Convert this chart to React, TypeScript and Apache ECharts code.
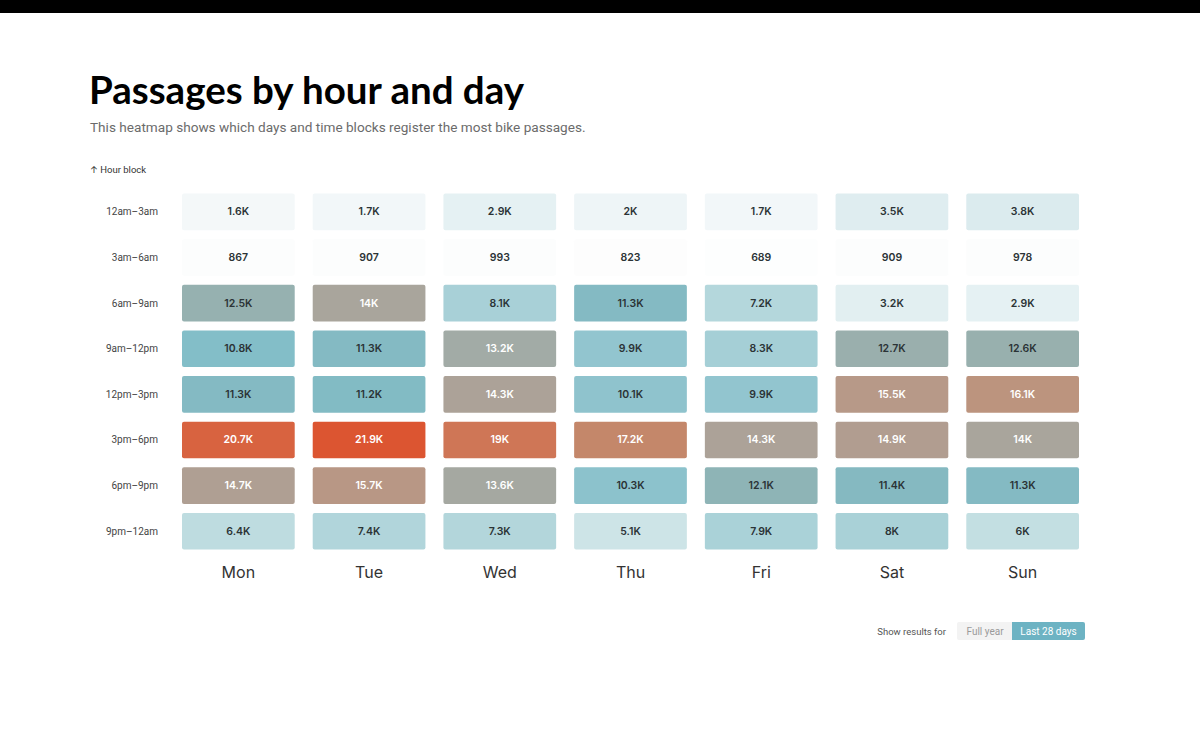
import React, { useEffect, useRef } from "react";
import * as echarts from "echarts";

// Days along the bottom, hour blocks down the side
const days = ["Mon", "Tue", "Wed", "Thu", "Fri", "Sat", "Sun"];
const hourBlocks = [
  "12am–3am",
  "3am–6am",
  "6am–9am",
  "9am–12pm",
  "12pm–3pm",
  "3pm–6pm",
  "6pm–9pm",
  "9pm–12am",
];

// Passages per hour block, Mon..Sun
const h00to03 = [1600, 1700, 2900, 2000, 1700, 3500, 3800];
const h03to06 = [867, 907, 993, 823, 689, 909, 978];
const h06to09 = [12500, 14000, 8100, 11300, 7200, 3200, 2900];
const h09to12 = [10800, 11300, 13200, 9900, 8300, 12700, 12600];
const h12to15 = [11300, 11200, 14300, 10100, 9900, 15500, 16100];
const h15to18 = [20700, 21900, 19000, 17200, 14300, 14900, 14000];
const h18to21 = [14700, 15700, 13600, 10300, 12100, 11400, 11300];
const h21to24 = [6400, 7400, 7300, 5100, 7900, 8000, 6000];

const rows = [h00to03, h03to06, h06to09, h09to12, h12to15, h15to18, h18to21, h21to24];

// Colour ramp, one stop per 1,000 passages from 0 to 22,000
const rampColors = [
  "#ffffff", "#fcfdfd", "#eef5f7", "#e4f0f2", "#d9eaed", "#cee4e8",
  "#c3dfe2", "#b7d8dd", "#a9d1d7", "#9dcbd3", "#91c4ce", "#80bcc7",
  "#8cb5b8", "#a0ada8", "#a9a59c", "#b29c8f", "#bb9580", "#c3896d",
  "#ca7f60", "#cf7656", "#d56b48", "#d9603c", "#dc5430",
];

const fmt = (v: number) => {
  if (v < 1000) return String(v);
  const k = (v / 1000).toFixed(1).replace(/\.0$/, "");
  return k + "K";
};

const FONT = "Inter, 'Noto Sans', sans-serif";
const NARROW = "Roboto, Inter, sans-serif";

export default function App() {
  const ref = useRef<HTMLDivElement>(null);

  useEffect(() => {
    if (!ref.current) return;
    const chart = echarts.init(ref.current, undefined, { renderer: "svg" });

    const data: number[][] = [];
    rows.forEach((row, r) => row.forEach((v, d) => data.push([d, r, v])));

    chart.setOption({
      animation: false,
      backgroundColor: "#ffffff",
      textStyle: { fontFamily: FONT },
      grid: { left: 173, right: 112, top: 189, bottom: 196 },
      xAxis: {
        type: "category",
        data: days,
        position: "bottom",
        axisLine: { show: false },
        axisTick: { show: false },
        splitLine: { show: false },
        axisLabel: { color: "#333333", fontSize: 16, margin: 10, fontFamily: FONT },
      },
      yAxis: {
        type: "category",
        data: hourBlocks,
        inverse: true,
        axisLine: { show: false },
        axisTick: { show: false },
        splitLine: { show: false },
        axisLabel: { color: "#444444", fontSize: 10, margin: 15, fontFamily: NARROW },
      },
      visualMap: {
        show: false,
        type: "continuous",
        dimension: 2,
        min: 0,
        max: 22000,
        inRange: { color: rampColors },
      },
      graphic: [
        {
          type: "rect",
          left: 0,
          top: 0,
          shape: { width: 1200, height: 13 },
          style: { fill: "#000000" },
        },
        {
          type: "text",
          left: 89,
          top: 69,
          style: {
            text: "Passages by hour and day",
            fill: "#000000",
            font: `700 38.5px Lato, ${FONT}`,
          },
        },
        {
          type: "text",
          left: 90,
          top: 120,
          style: {
            text: "This heatmap shows which days and time blocks register the most bike passages.",
            fill: "#6b6b6b",
            font: `400 13.6px ${NARROW}`,
          },
        },
        {
          type: "text",
          left: 90,
          top: 164,
          style: { text: "↑ Hour block", fill: "#333333", font: `400 9.5px ${NARROW}` },
        },
        {
          type: "text",
          x: 946,
          y: 631,
          style: {
            text: "Show results for",
            fill: "#555555",
            font: `400 9.5px ${NARROW}`,
            align: "right",
            verticalAlign: "middle",
          },
        },
        {
          type: "rect",
          shape: { x: 957, y: 622, width: 56, height: 18, r: [2, 0, 0, 2] },
          style: { fill: "#f3f3f3" },
        },
        {
          type: "text",
          x: 985,
          y: 631,
          style: {
            text: "Full year",
            fill: "#9a9a9a",
            font: `400 10px ${NARROW}`,
            align: "center",
            verticalAlign: "middle",
          },
        },
        {
          type: "rect",
          shape: { x: 1012, y: 622, width: 73, height: 18, r: [0, 2, 2, 0] },
          style: { fill: "#6db3c3" },
        },
        {
          type: "text",
          x: 1048.5,
          y: 631,
          style: {
            text: "Last 28 days",
            fill: "#ffffff",
            font: `400 10px ${NARROW}`,
            align: "center",
            verticalAlign: "middle",
          },
        },
      ],
      series: [
        {
          type: "custom",
          data,
          encode: { x: 0, y: 1 },
          renderItem: (params: any, api: any) => {
            const d = api.value(0);
            const r = api.value(1);
            const v = api.value(2) as number;
            const c = api.coord([d, r]);
            const size = api.size([1, 1]);
            const w = size[0] - 18;
            const h = size[1] - 9;
            return {
              type: "group",
              children: [
                {
                  type: "rect",
                  shape: { x: c[0] - w / 2, y: c[1] - h / 2, width: w, height: h, r: 2 },
                  style: { fill: api.visual("color") },
                },
                {
                  type: "text",
                  x: c[0],
                  y: c[1],
                  style: {
                    text: fmt(v),
                    fill: v >= 13000 ? "#ffffff" : "#2b3336",
                    font: `600 10.5px ${FONT}`,
                    align: "center",
                    verticalAlign: "middle",
                  },
                },
              ],
            };
          },
        },
      ],
    });

    return () => chart.dispose();
  }, []);

  return (
    <div
      ref={ref}
      style={{ position: "absolute", left: 0, top: 0, width: 1200, height: 750 }}
    />
  );
}
